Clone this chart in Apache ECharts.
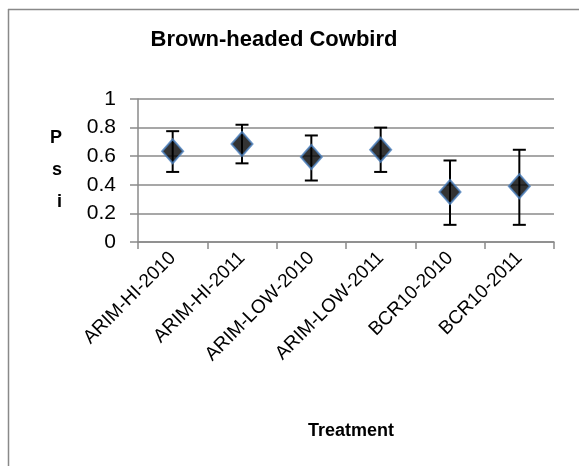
<!DOCTYPE html>
<html>
<head>
<meta charset="utf-8">
<script src="https://cdn.jsdelivr.net/npm/echarts@6/dist/echarts.min.js"></script>
<style>html,body{margin:0;padding:0;background:#fff}#c{width:579px;height:466px}</style>
</head>
<body>
<div id="c"></div>
<script>
var categories = ['ARIM-HI-2010','ARIM-HI-2011','ARIM-LOW-2010','ARIM-LOW-2011','BCR10-2010','BCR10-2011'];
var psi = [0.635, 0.685, 0.595, 0.645, 0.35, 0.39];
var upper = [0.775, 0.82, 0.745, 0.80, 0.57, 0.645];
var lower = [0.49, 0.55, 0.43, 0.49, 0.12, 0.12];
var yTicks = [0, 0.2, 0.4, 0.6, 0.8, 1];

var FONT = '"Liberation Sans", Arial, sans-serif';
var chart = echarts.init(document.getElementById('c'), null, {renderer: 'canvas'});
var errData = categories.map(function (c, i) { return [i, lower[i], upper[i]]; });

chart.setOption({
  animation: false,
  backgroundColor: '#fff',
  title: {
    text: 'Brown-headed Cowbird',
    left: 269, top: 24, textAlign: 'center',
    textStyle: {fontFamily: FONT, fontWeight: 'bold', fontSize: 22, color: '#000'}
  },
  graphic: [
    {type: 'line', shape: {x1: 8, y1: 9.5, x2: 579, y2: 9.5}, style: {stroke: '#898989', lineWidth: 1.5}},
    {type: 'line', shape: {x1: 8.5, y1: 9, x2: 8.5, y2: 466}, style: {stroke: '#898989', lineWidth: 1.5}}
  ],
  grid: {left: 138, right: 25, top: 99, bottom: 224, containLabel: false},
  xAxis: {
    type: 'category',
    data: categories,
    boundaryGap: true,
    name: 'Treatment',
    nameLocation: 'middle',
    nameGap: 180,
    nameTextStyle: {fontFamily: FONT, fontWeight: 'bold', fontSize: 18, color: '#000', padding: [0, 0, 0, 10]},
    axisLine: {lineStyle: {color: '#8a8a8a', width: 1.5}},
    axisTick: {show: true, alignWithLabel: false, length: 7, lineStyle: {color: '#8a8a8a', width: 1.5}},
    axisLabel: {rotate: 45, margin: 13, interval: 0, fontFamily: FONT, fontSize: 19, color: '#000'}
  },
  yAxis: {
    type: 'value',
    min: 0, max: 1, interval: 0.2,
    name: 'P\ns\ni',
    nameLocation: 'middle',
    nameRotate: 0,
    nameGap: 76,
    nameTextStyle: {fontFamily: FONT, fontWeight: 'bold', fontSize: 18, color: '#000', lineHeight: 32},
    axisLine: {show: true, lineStyle: {color: '#8a8a8a', width: 1.5}},
    axisTick: {show: true, length: 8, lineStyle: {color: '#8a8a8a', width: 1.5}},
    splitLine: {show: true, lineStyle: {color: '#8a8a8a', width: 1.5}},
    axisLabel: {
      margin: 22, fontFamily: FONT, fontSize: 21, color: '#000',
      formatter: function (v) {
        for (var k = 0; k < yTicks.length; k++) { if (Math.abs(yTicks[k] - v) < 1e-9) return String(yTicks[k]); }
        return '';
      }
    }
  },
  series: [
    {
      type: 'custom',
      data: errData,
      z: 2,
      renderItem: function (params, api) {
        var x = api.coord([api.value(0), 0])[0];
        var lo = api.coord([api.value(0), api.value(1)])[1];
        var hi = api.coord([api.value(0), api.value(2)])[1];
        var hw = 6.5;
        var st = {stroke: '#000', lineWidth: 2, fill: null};
        return {
          type: 'group',
          children: [
            {type: 'line', shape: {x1: x, y1: lo, x2: x, y2: hi}, style: st},
            {type: 'line', shape: {x1: x - hw, y1: hi, x2: x + hw, y2: hi}, style: st},
            {type: 'line', shape: {x1: x - hw, y1: lo, x2: x + hw, y2: lo}, style: st}
          ]
        };
      }
    },
    {
      type: 'scatter',
      data: psi,
      z: 3,
      symbol: 'diamond',
      symbolSize: [21, 24],
      itemStyle: {color: '#000', borderColor: '#4a7ebb', borderWidth: 2}
    }
  ]
});
</script>
</body>
</html>
